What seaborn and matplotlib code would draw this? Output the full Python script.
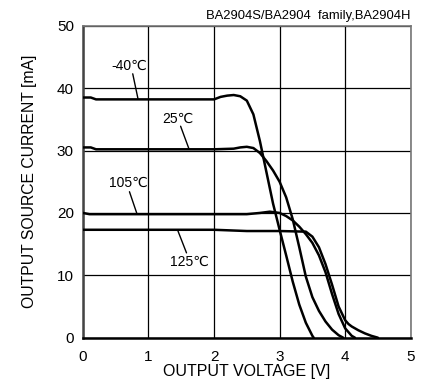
import matplotlib
matplotlib.use("Agg")
import matplotlib.pyplot as plt
import seaborn as sns
import pandas as pd

# -40 degC
x_m40 = [0, 0.12, 0.2, 1.0, 2.0, 2.1, 2.2, 2.3, 2.4, 2.5, 2.6, 2.7, 2.8, 2.9, 3.0, 3.1, 3.2, 3.3, 3.4, 3.5, 3.52]
y_m40 = [38.5, 38.5, 38.2, 38.2, 38.2, 38.6, 38.8, 38.9, 38.7, 38.0, 35.8, 31.5, 26.5, 21.5, 17.3, 13.2, 9.0, 5.3, 2.4, 0.3, 0.0]

# 25 degC
x_25 = [0, 0.12, 0.2, 1.0, 2.0, 2.3, 2.4, 2.5, 2.6, 2.7, 2.8, 2.9, 3.0, 3.1, 3.2, 3.3, 3.4, 3.5, 3.6, 3.7, 3.8, 3.9, 3.97]
y_25 = [30.5, 30.5, 30.2, 30.2, 30.2, 30.3, 30.5, 30.6, 30.4, 29.6, 28.3, 26.8, 25.0, 22.5, 19.0, 14.5, 9.8, 6.5, 4.3, 2.6, 1.3, 0.4, 0.0]

# 105 degC
x_105 = [0, 0.1, 1.0, 2.0, 2.5, 2.7, 2.85, 3.0, 3.1, 3.2, 3.3, 3.4, 3.5, 3.6, 3.7, 3.8, 3.9, 4.0, 4.1, 4.15]
y_105 = [20.0, 19.8, 19.8, 19.8, 19.8, 20.0, 20.2, 20.0, 19.5, 18.8, 17.8, 16.6, 15.2, 13.2, 10.5, 7.0, 3.8, 1.5, 0.3, 0.0]

# 125 degC
x_125 = [0, 0.2, 1.0, 2.0, 2.5, 3.0, 3.4, 3.5, 3.6, 3.7, 3.8, 3.9, 4.0, 4.05, 4.1, 4.2, 4.3, 4.4, 4.5]
y_125 = [17.3, 17.3, 17.3, 17.3, 17.1, 17.1, 17.0, 16.2, 14.5, 11.8, 8.5, 5.0, 2.8, 2.2, 1.8, 1.2, 0.7, 0.3, 0.0]

labels = ["-40\u2103", "25\u2103", "105\u2103", "125\u2103"]
# label text position, leader start, leader end (data coords)
label_pos = [(0.70, 43.5), (1.45, 35.0), (0.69, 24.9), (1.62, 12.1)]
leader_from = [(0.76, 42.3), (1.49, 33.9), (0.71, 23.4), (1.45, 17.1)]
leader_to = [(0.84, 38.3), (1.62, 30.2), (0.82, 20.0), (1.58, 13.6)]

sns.set_style("white")
plt.rcParams['font.family'] = ['Liberation Sans', 'DejaVu Sans']
plt.rcParams['text.color'] = 'black'
plt.rcParams['axes.labelcolor'] = 'black'
plt.rcParams['xtick.color'] = 'black'
plt.rcParams['ytick.color'] = 'black'

fig = plt.figure(figsize=(4.23, 3.88), dpi=100)
ax = fig.add_axes([0.196, 0.1296, 0.775, 0.804])

for xs, ys in [(x_m40, y_m40), (x_25, y_25), (x_105, y_105), (x_125, y_125)]:
    df = pd.DataFrame({"v": xs, "i": ys})
    sns.lineplot(data=df, x="v", y="i", ax=ax, color="black", lw=1.8, sort=False, zorder=3)

for lab, p, a, b in zip(labels, label_pos, leader_from, leader_to):
    ax.text(p[0], p[1], lab, fontsize=10, ha="center", va="center")
    ax.plot([a[0], b[0]], [a[1], b[1]], color="black", lw=1.0)

ax.set_xlim(0, 5)
ax.set_ylim(0, 50)
ax.set_xticks([0, 1, 2, 3, 4, 5])
ax.set_yticks([0, 10, 20, 30, 40, 50])
ax.grid(True, color="black", lw=0.9)
ax.tick_params(labelsize=11, length=0)
ax.tick_params(axis="x", pad=9)
ax.tick_params(axis="y", pad=6.5)

for s in ["top", "right"]:
    ax.spines[s].set_color("#777777")
    ax.spines[s].set_linewidth(1.2)
ax.spines["left"].set_color("#444444")
ax.spines["left"].set_linewidth(1.8)
ax.spines["bottom"].set_color("black")
ax.spines["bottom"].set_linewidth(1.8)

ax.set_xlabel("OUTPUT VOLTAGE [V]", fontsize=11.5, labelpad=0)
ax.set_ylabel("OUTPUT SOURCE CURRENT [mA]", fontsize=11.3, labelpad=14)
ax.set_title("BA2904S/BA2904  family,BA2904H", fontsize=9.4, loc="right", pad=5)

fig.savefig("out.png", dpi=100)
